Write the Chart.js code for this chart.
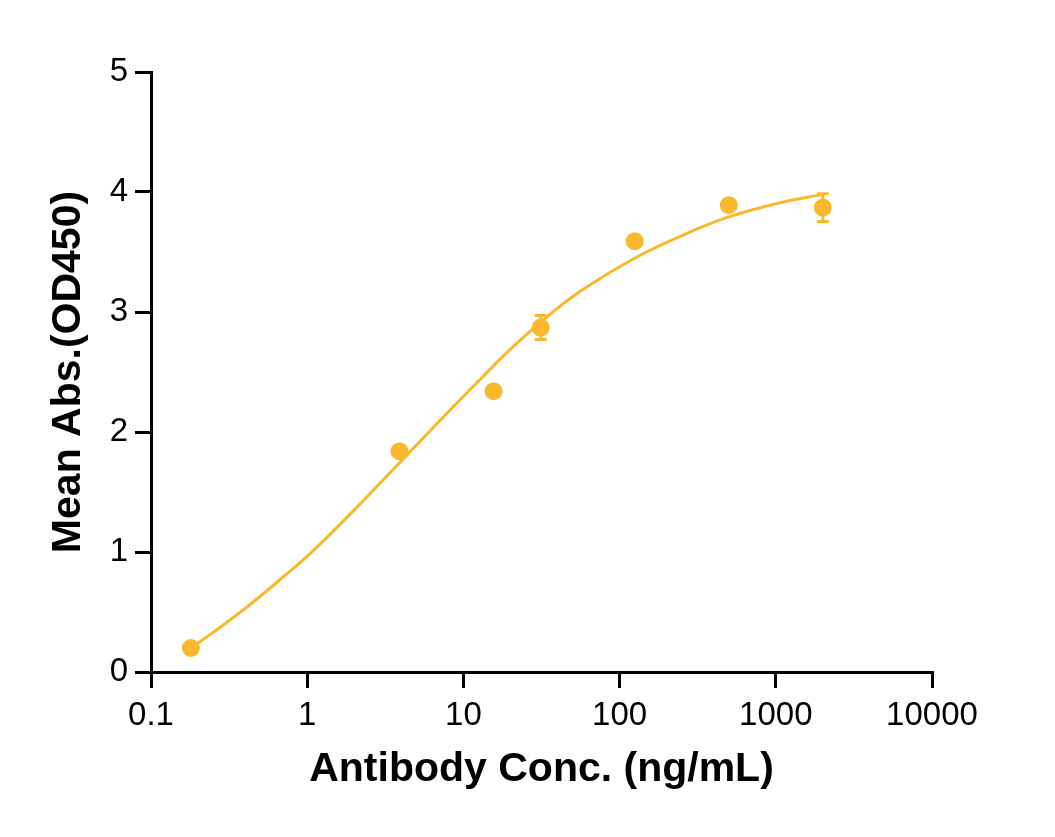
<!DOCTYPE html>
<html>
<head>
<meta charset="utf-8">
<script src="https://cdn.jsdelivr.net/npm/chart.js@4.4.1/dist/chart.umd.min.js"></script>
<style>
  html, body { margin: 0; padding: 0; background: #fff; }
  canvas { display: block; }
</style>
</head>
<body>
<canvas id="chart" width="1055" height="837"></canvas>
<script>
// ================= DATA =================

// measured points (ng/mL, OD450)
const conc = [0.18, 3.9, 15.6, 31.25, 125, 500, 2000];
const meanAbs = [0.20, 1.84, 2.34, 2.87, 3.59, 3.89, 3.87];
const sdAbs = [0, 0, 0, 0.10, 0, 0, 0.115];

// fitted curve
const fitConc = [0.18, 0.25, 0.41, 0.67, 1.09, 2.07, 3.39, 5.53, 9.06, 13.4, 20, 30.9, 55.7, 125.6, 244, 494, 1064, 2003];
const fitAbs = [0.20, 0.33, 0.54, 0.77, 1.01, 1.37, 1.66, 1.95, 2.24, 2.465, 2.69, 2.91, 3.17, 3.45, 3.63, 3.79, 3.91, 3.98];

// axis ticks
const xTicks = [0.1, 1, 10, 100, 1000, 10000];
const yTicks = [0, 1, 2, 3, 4, 5];

const ORANGE = "#FAB92C";

// ================= ERROR BARS =================

const errorBars = {
    id: "errorBars",
    beforeDatasetsDraw(chart) {
        const ctx = chart.ctx;
        const xs = chart.scales.x;
        const ys = chart.scales.y;
        ctx.save();
        ctx.strokeStyle = ORANGE;
        ctx.lineWidth = 3;
        conc.forEach((c, i) => {
            const err = sdAbs[i];
            if (!err) return;
            const px = xs.getPixelForValue(c);
            const top = ys.getPixelForValue(meanAbs[i] + err);
            const bot = ys.getPixelForValue(meanAbs[i] - err);
            ctx.beginPath();
            ctx.moveTo(px, top);
            ctx.lineTo(px, bot);
            ctx.moveTo(px - 6, top);
            ctx.lineTo(px + 6, top);
            ctx.moveTo(px - 6, bot);
            ctx.lineTo(px + 6, bot);
            ctx.stroke();
        });
        ctx.restore();
    }
};

// ================= CHART =================

const tickFont = { family: "Liberation Sans", size: 33 };
const titleFont = { family: "Liberation Sans", size: 41, weight: "bold" };

new Chart(document.getElementById("chart"), {
    data: {
        datasets: [
            {
                type: "scatter",
                label: "Mean",
                data: conc.map((c, i) => ({ x: c, y: meanAbs[i] })),
                backgroundColor: ORANGE,
                borderColor: ORANGE,
                pointRadius: 9,
                pointBorderWidth: 0
            },
            {
                type: "line",
                label: "Fit",
                data: fitConc.map((c, i) => ({ x: c, y: fitAbs[i] })),
                borderColor: ORANGE,
                borderWidth: 3,
                pointRadius: 0,
                fill: false,
                tension: 0.4
            }
        ]
    },
    options: {
        responsive: false,
        animation: false,
        devicePixelRatio: 1,
        layout: { padding: { top: 72, right: 123, bottom: 0, left: 0 } },
        plugins: {
            legend: { display: false },
            tooltip: { enabled: false }
        },
        scales: {
            x: {
                type: "logarithmic",
                position: "bottom",
                min: 0.1,
                max: 10000,
                afterBuildTicks: s => { s.ticks = xTicks.map(v => ({ value: v })); },
                afterFit: s => { s.height = 165; },
                border: { display: true, color: "#000", width: 3 },
                grid: { drawOnChartArea: false, drawTicks: true, tickLength: 16, lineWidth: 3, color: "#000" },
                ticks: {
                    color: "#000",
                    font: tickFont,
                    padding: 8,
                    maxRotation: 0,
                    autoSkip: false,
                    callback: v => String(v)
                },
                title: {
                    display: true,
                    text: "Antibody Conc. (ng/mL)",
                    color: "#000",
                    font: titleFont,
                    padding: { top: 0, bottom: 43 }
                }
            },
            y: {
                type: "linear",
                min: 0,
                max: 5,
                afterBuildTicks: s => { s.ticks = yTicks.map(v => ({ value: v })); },
                afterFit: s => { s.width = 151; },
                border: { display: true, color: "#000", width: 3 },
                grid: { drawOnChartArea: false, drawTicks: true, tickLength: 16, lineWidth: 3, color: "#000" },
                ticks: { color: "#000", font: tickFont, padding: 7 },
                title: {
                    display: true,
                    text: "Mean Abs.(OD450)",
                    color: "#000",
                    font: titleFont,
                    padding: { top: 44, bottom: 0 }
                }
            }
        }
    },
    plugins: [errorBars]
});
</script>
</body>
</html>
